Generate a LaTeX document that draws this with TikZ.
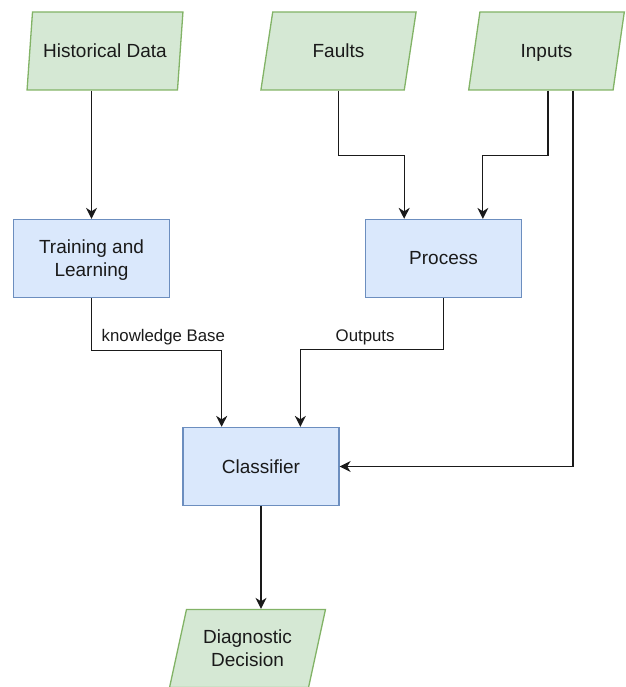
\documentclass[tikz,border=0pt]{standalone}
\usepackage{fontspec}
\setmainfont{Liberation Sans}
\usetikzlibrary{shapes.geometric,arrows.meta,calc}
\definecolor{iofill}{HTML}{D5E8D4}
\definecolor{ioline}{HTML}{82B366}
\definecolor{stepfill}{HTML}{DAE8FC}
\definecolor{stepline}{HTML}{6C8EBF}
\definecolor{ink}{HTML}{1A1A1A}
\begin{document}
\begin{tikzpicture}[x=1pt,y=-1pt,
  boxtext/.style={align=center, inner sep=0pt, text=ink,
    font={\fontsize{19}{23}\selectfont}},
  iobox/.style={trapezium, trapezium left angle=71.57, trapezium right angle=108.43,
    trapezium stretches=true, minimum width=156pt, minimum height=78pt,
    fill=iofill, draw=ioline, line width=1.3pt, boxtext},
  stepbox/.style={rectangle, minimum width=156pt, minimum height=78pt,
    fill=stepfill, draw=stepline, line width=1.3pt, boxtext},
  link/.style={draw=ink, line width=1.3pt, -{Stealth[length=11pt,width=11pt,inset=3.5pt]}},
  lbl/.style={inner sep=0pt, text=ink, font={\fontsize{16.8}{20}\selectfont}}]
\useasboundingbox (0,0) rectangle (625,687);

% inputs and outputs
\node[iobox] (hd) at (105,51) {Historical Data};
\node[iobox] (faults) at (338.5,51) {Faults};
\node[iobox, text depth=0pt] (inputs) at (546.5,51) {Inputs};
\node[iobox] (dd) at (247.5,648.5) {Diagnostic\\Decision};

% processing steps
\node[stepbox, text depth=0pt] (train) at (91.5,258.5) {Training and\\Learning};
\node[stepbox] (proc) at (443.5,258.5) {Process};
\node[stepbox] (cls) at (261,466.5) {Classifier};

% entry points on the tops of the boxes
\coordinate (pin1) at ($(proc.north west)!0.25!(proc.north east)$);
\coordinate (pin2) at ($(proc.north west)!0.75!(proc.north east)$);
\coordinate (cin1) at ($(cls.north west)!0.25!(cls.north east)$);
\coordinate (cin2) at ($(cls.north west)!0.75!(cls.north east)$);

% connectors
\draw[link] (hd.south -| train.north) -- (train.north);
\draw[link] (faults.south) -- ++(0,65) -| (pin1);
\draw[link] ([xshift=1.5pt]inputs.south) -- ++(0,65) -| (pin2);
\draw[link] ([xshift=26.5pt]inputs.south) |- (cls.east);
\draw[link] (train.south) -- ++(0,52) -| (cin1);
\draw[link] (proc.south) -- ++(0,51) -| (cin2);
\draw[link] (cls.south) -- (cls.south |- dd.north);

% connector labels
\node[lbl, anchor=base west] (kb) at (101.5,341.5) {knowledge Base};
\node[lbl, anchor=base west] (outs) at (335.5,341.5) {Outputs};
\end{tikzpicture}
\end{document}
